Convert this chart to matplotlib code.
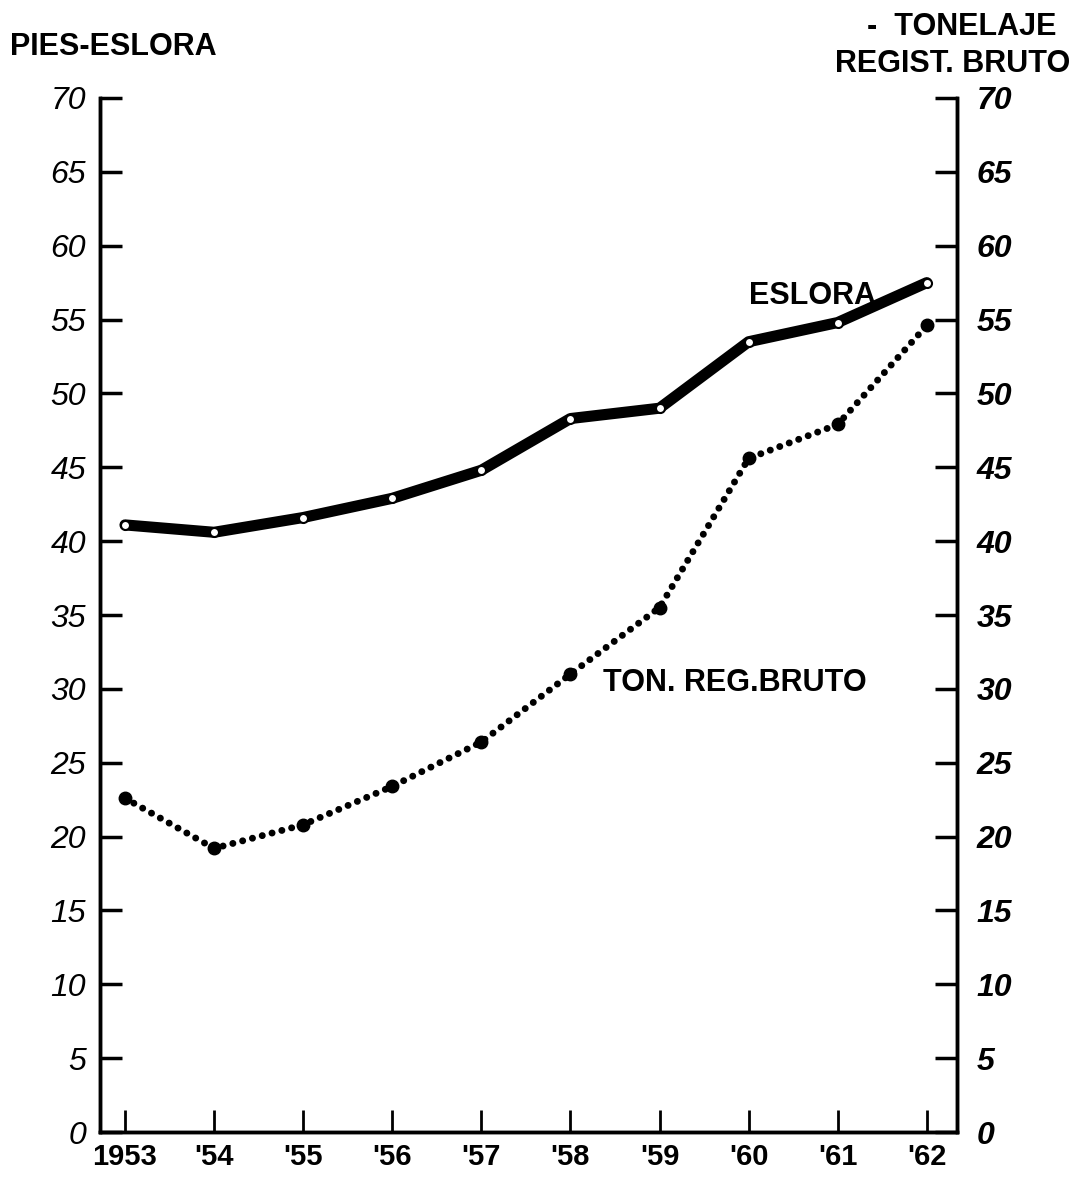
import matplotlib.pyplot as plt
import numpy as np

years = [1953, 1954, 1955, 1956, 1957, 1958, 1959, 1960, 1961, 1962]
year_labels = ["1953", "'54", "'55", "'56", "'57", "'58", "'59", "'60", "'61", "'62"]
eslora = [41.1, 40.6, 41.6, 42.9, 44.8, 48.3, 49.0, 53.5, 54.8, 57.5]
ton_bruto = [22.6, 19.2, 20.8, 23.4, 26.4, 31.0, 35.5, 45.6, 47.9, 54.6]
yticks = list(range(0, 75, 5))

plt.rcParams['font.family'] = ['Liberation Sans', 'DejaVu Sans']

fig = plt.figure(figsize=(10.78, 11.85), dpi=100)
ax = fig.add_axes([0.0928, 0.0447, 0.795, 0.8726])
ax2 = ax.twinx()

# thick line with open circles
ax.plot(years, eslora, color="black", lw=8, solid_capstyle="round", zorder=3)
ax.plot(years, eslora, "o", ms=6.5, mfc="white", mec="black", mew=1.5, zorder=4)

# dotted series with bigger dots at data points
ax.plot(years, ton_bruto, color="black", lw=5, dashes=(0.01, 1.45),
        dash_capstyle="round", zorder=3)
ax.plot(years, ton_bruto, "o", ms=9, color="black", zorder=4)

for a in (ax, ax2):
    a.set_ylim(0, 70)
    a.set_yticks(yticks)
    a.spines["top"].set_visible(False)
    for s in ("left", "right", "bottom"):
        a.spines[s].set_linewidth(2.5)
ax.set_xlim(1952.72, 1962.34)
ax.set_xticks(years)
ax.set_xticklabels(year_labels, fontsize=21, fontweight="bold")
ax.set_yticklabels([str(v) for v in yticks], fontsize=23, style="italic")
ax2.set_yticklabels([str(v) for v in yticks], fontsize=23, style="italic",
                    fontweight="bold")
ax.tick_params(axis="y", direction="in", length=16, width=2.5, pad=10)
ax2.tick_params(axis="y", direction="in", length=16, width=2.5, pad=14)
ax.tick_params(axis="x", direction="in", length=16, width=2, pad=8)

ax.text(1960.0, 56.6, "ESLORA", fontsize=22, fontweight="bold", va="center", ha="left")
ax.text(1958.37, 30.4, "TON. REG.BRUTO", fontsize=22, fontweight="bold", va="center", ha="left")

fig.text(0.009, 0.96, "PIES-ESLORA", fontsize=22, fontweight="bold", va="center", ha="left")
fig.text(0.98, 0.977, "-  TONELAJE", fontsize=22, fontweight="bold", va="center", ha="right")
fig.text(0.993, 0.946, "REGIST. BRUTO", fontsize=22, fontweight="bold", va="center", ha="right")

fig.savefig("out.png", dpi=100)
